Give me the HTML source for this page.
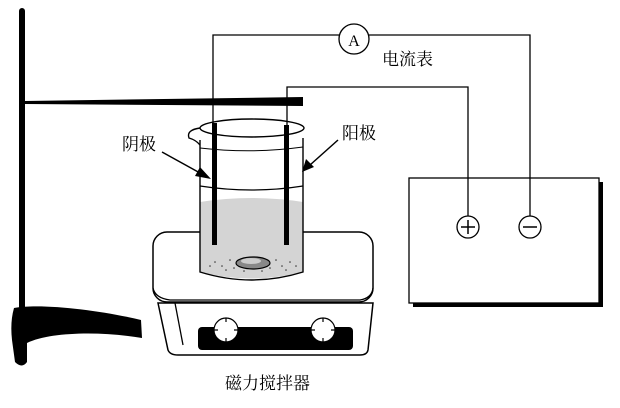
<!DOCTYPE html>
<html><head><meta charset="utf-8"><style>
html,body{margin:0;padding:0;background:#fff;}
svg{display:block;}
text{font-family:"Liberation Serif","Noto Serif CJK SC",serif;fill:#000;}
</style></head><body>
<svg width="620" height="408" viewBox="0 0 620 408" xmlns="http://www.w3.org/2000/svg">
<!-- stand -->
<rect x="19" y="8" width="6" height="305" rx="3" fill="#000"/>
<path d="M14,308 C40,303 100,310 141,320 L142,338 C100,331 50,332 27,343 L27,362 Q22,369 15,362 L12,340 Q10,322 14,308 z" fill="#000"/>
<!-- clamp bar -->
<path d="M25,101 L303,97 L303,106 L25,104 z" fill="#000"/>
<!-- wires -->
<polyline points="213,123 213,35 339,35" fill="none" stroke="#000" stroke-width="1.3"/>
<polyline points="369,35 530,35 530,216" fill="none" stroke="#000" stroke-width="1.3"/>
<polyline points="287,125 287,87 468,87 468,216" fill="none" stroke="#000" stroke-width="1.3"/>
<circle cx="354" cy="39" r="15" fill="#fff" stroke="#000" stroke-width="1.3"/>
<text x="354" y="46" font-size="16" text-anchor="middle">A</text>
<text x="382" y="65" font-size="17">电流表</text>
<!-- battery -->
<rect x="413" y="182" width="190" height="125" fill="#000"/>
<rect x="409" y="178" width="190" height="125" fill="#fff" stroke="#000" stroke-width="1.3"/>
<polyline points="468,178 468,216" stroke="#000" stroke-width="1.3"/>
<polyline points="530,178 530,216" stroke="#000" stroke-width="1.3"/>
<circle cx="468" cy="227" r="11" fill="#fff" stroke="#000" stroke-width="1.3"/>
<path d="M461,227 H475 M468,220 V234" stroke="#000" stroke-width="1.5"/>
<circle cx="530" cy="227" r="11" fill="#fff" stroke="#000" stroke-width="1.3"/>
<path d="M523,227 H537" stroke="#000" stroke-width="1.5"/>
<!-- stirrer -->
<path d="M158,303 L168,350 Q170,355 178,355 L360,355 Q367,355 368,350 L373,303 z" fill="#fff" stroke="#000" stroke-width="1.5"/>
<path d="M175,303 L183,345" stroke="#000" stroke-width="1.3"/>
<rect x="153" y="232" width="220" height="70" rx="14" fill="#fff" stroke="#000" stroke-width="1.5"/>
<path d="M153,288 Q155,298 170,300 L360,300 Q372,298 373,288" fill="none" stroke="#000" stroke-width="1.3"/>
<rect x="198" y="327" width="155" height="23" rx="4" fill="#000"/>
<g stroke="#000" stroke-width="1.2" fill="#fff">
<circle cx="226" cy="330" r="12"/>
<circle cx="323" cy="330" r="12"/>
<path d="M226,318 V322 M226,338 V342 M214,330 H218 M234,330 H238 M323,318 V322 M323,338 V342 M311,330 H315 M331,330 H335"/>
</g>
<!-- beaker -->
<path d="M200,202 Q252,194 303,202 L303,272 Q252,285 200,272 z" fill="#d4d4d4"/>
<path d="M200,140 L200,272 Q252,288 303,272 L303,138" fill="none" stroke="#000" stroke-width="1.4"/>
<ellipse cx="252" cy="128" rx="52" ry="9" fill="none" stroke="#000" stroke-width="1.4"/>
<path d="M200,128 Q186,130 189,138 Q196,140 200,145" fill="none" stroke="#000" stroke-width="1.4"/>
<path d="M200,148 Q252,154 303,147" fill="none" stroke="#000" stroke-width="1"/>
<path d="M200,186 Q252,194 303,186" fill="none" stroke="#000" stroke-width="1.2"/>
<g fill="#333">
<circle cx="215" cy="262" r="0.8"/><circle cx="222" cy="266" r="0.8"/><circle cx="230" cy="260" r="0.8"/><circle cx="234" cy="268" r="0.8"/><circle cx="240" cy="264" r="0.8"/><circle cx="276" cy="260" r="0.8"/><circle cx="282" cy="266" r="0.8"/><circle cx="290" cy="262" r="0.8"/><circle cx="286" cy="270" r="0.8"/><circle cx="270" cy="268" r="0.8"/><circle cx="244" cy="271" r="0.8"/><circle cx="262" cy="271" r="0.8"/><circle cx="226" cy="270" r="0.8"/><circle cx="296" cy="266" r="0.8"/><circle cx="210" cy="266" r="0.8"/>
</g>
<ellipse cx="253" cy="263" rx="17" ry="6" fill="#888" stroke="#000" stroke-width="1.2"/>
<ellipse cx="251" cy="261" rx="10" ry="3" fill="#ccc"/>
<!-- electrodes -->
<rect x="212" y="123" width="5" height="122" fill="#000"/>
<rect x="284" y="125" width="5" height="120" fill="#000"/>
<!-- labels -->
<text x="122" y="150" font-size="17">阴极</text>
<text x="342" y="139" font-size="17">阳极</text>
<text x="225" y="389" font-size="17">磁力搅拌器</text>
<line x1="162" y1="152" x2="200" y2="173" stroke="#000" stroke-width="1.5"/>
<polygon points="211,179 195,176 200,167" fill="#000"/>
<line x1="338" y1="140" x2="310" y2="165" stroke="#000" stroke-width="1.5"/>
<polygon points="302,172 306,159 314,167" fill="#000"/>
</svg>
</body></html>
